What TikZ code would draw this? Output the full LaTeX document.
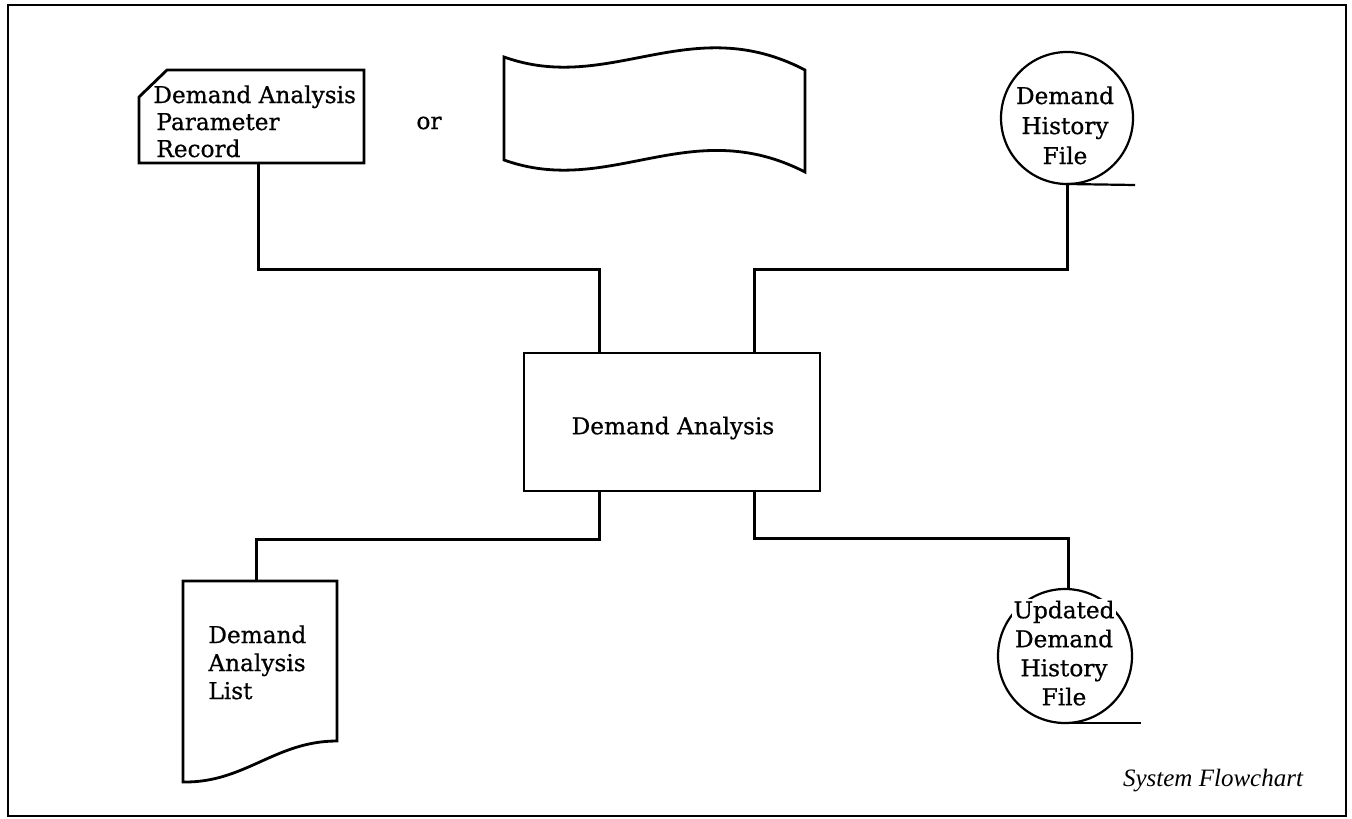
\documentclass[tikz,border=0pt]{standalone}
\usepackage{fontspec}
\setmainfont{DejaVu Serif}[FakeBold=0.7]
\newfontfamily\captionfont{Liberation Serif}
\begin{document}
\begin{tikzpicture}[x=0.5pt,y=-0.5pt,
  conn/.style={line width=1.5pt, line join=miter},
  outline/.style={line width=1.4pt, line join=miter},
  reel/.style={line width=1.1pt},
  holder/.style={inner sep=0pt, outer sep=0pt},
  lbl/.style={inner sep=0pt, font=\fontsize{11.6}{13.5}\selectfont},
]
\useasboundingbox (0,0) rectangle (1352,818);
% frame
\draw[line width=1.1pt] (8,5) rectangle (1346,816);

% punched card input
\node[holder, minimum width=112.5pt, minimum height=46.5pt] (card) at (251.5,116.5) {};
\draw[outline] (167,70) -- (364,70) -- (364,163) -- (139,163) -- (139,97) -- cycle;
\node[lbl, align=left, anchor=north west] (cardtxt) at (153,85)
  {Demand Analysis\\\hspace{1.5pt}Parameter\\\hspace{1.5pt}Record};

\node[lbl] (or) at (429,123) {or};

% paper tape alternative
\draw[outline] (504,57) .. controls (610,95) and (690,10) .. (805,70)
  -- (805,172) .. controls (690,113) and (610,198) .. (504,160) -- cycle;

% history file (magnetic tape)
\node[holder, circle, draw, reel, minimum size=66pt] (hist) at (1067,118) {};
\draw[reel] (hist.south) -- ++(68,1);
\node[lbl, align=center, anchor=north, font=\fontsize{11.6}{15}\selectfont] (histtxt) at (1065,86)
  {Demand\\History\\File};

% processing step
\node[holder, draw, outline, minimum width=148pt, minimum height=69pt] (box) at (672,422) {};
\node[lbl] (boxtxt) at (673,428) {Demand Analysis};

% printed report
\node[holder, minimum width=77pt, minimum height=80pt] (list) at (260,661) {};
\draw[outline] (183,581) -- (337,581) -- (337,741)
  .. controls (275,741) and (245,783) .. (183,782) -- cycle;
\node[lbl, align=left, anchor=north west, font=\fontsize{11.6}{14}\selectfont] (listtxt) at (208,625)
  {Demand\\Analysis\\List};

% updated history file
\node[holder, circle, draw, reel, minimum size=67pt] (upd) at (1065,656) {};
\draw[reel] (upd.south) -- ++(76,0);
\node[lbl, align=center, anchor=north, font=\fontsize{11.6}{14.5}\selectfont] (updtxt) at (1064,599)
  {{\setlength\fboxsep{0.6pt}\colorbox{white}{Updated}}\\Demand\\History\\File};

% connectors
\draw[conn] ([xshift=3.25pt]card.south) -- ++(0,106) -| ([xshift=-36.5pt]box.north);
\draw[conn] (hist.south) -- ++(0,85) -| ([xshift=41pt]box.north);
\draw[conn] ([xshift=-36.5pt]box.south) -- ++(0,48) -| ([xshift=-2pt]list.north);
\draw[conn] ([xshift=41pt]box.south) -- ++(0,47) -| ([xshift=1.5pt]upd.north);

\node[inner sep=0pt, anchor=base, font=\captionfont\itshape\fontsize{12.5}{14}\selectfont] (caption) at (1213,786) {System Flowchart};
\end{tikzpicture}
\end{document}
